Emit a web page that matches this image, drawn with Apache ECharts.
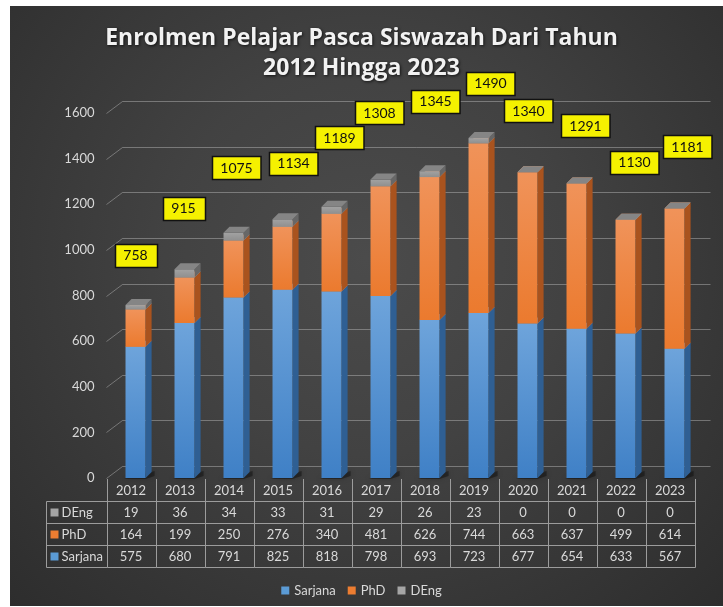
<!DOCTYPE html>
<html>
<head>
<meta charset="utf-8">
<script src="https://cdn.jsdelivr.net/npm/echarts@6/dist/echarts.min.js"></script>
<style>
html,body{margin:0;padding:0;background:#fff;}
#bg{position:absolute;left:10px;top:6px;width:713px;height:600px;
background:radial-gradient(ellipse at 50% 42%, #4b4b4b 0%, #424242 40%, #2d2d2d 100%);}
#chart{position:absolute;left:0;top:0;width:723px;height:607px;}
</style>
</head>
<body>
<div id="bg"></div>
<div id="chart"></div>
<script>
const years = ['2012','2013','2014','2015','2016','2017','2018','2019','2020','2021','2022','2023'];
const deng = [19,36,34,33,31,29,26,23,0,0,0,0];
const phd = [164,199,250,276,340,481,626,744,663,637,499,614];
const sarjana = [575,680,791,825,818,798,693,723,677,654,633,567];
const totals = [758,915,1075,1134,1189,1308,1345,1490,1340,1291,1130,1181];
const yTicks = [0,200,400,600,800,1000,1200,1400,1600];
const seriesNames = ['Sarjana','PhD','DEng'];

// label box offsets (pixels) relative to each total's position
const labelDx = [4.5,3.5,7.5,15.5,12.5,3.5,10.5,16.5,5.5,13.5,13.5,17.5];
const labelDy = [-50,-61,-65,-56,-69,-67,-70,-55,-61.5,-58,-58,-62];

const FONT = 'Lato';
const TXT = '#d9d9d9';
const G = echarts.graphic;
const colors = {
  Sarjana: {legend:'#5b9bd5', front:new G.LinearGradient(0,0,0,1,[{offset:0,color:'#6ea4db'},{offset:1,color:'#3f80c6'}]), side:'#2f5f93', top:'#7fb0e0'},
  PhD: {legend:'#ed7d31', front:new G.LinearGradient(0,0,0,1,[{offset:0,color:'#f0935a'},{offset:1,color:'#eb7a2e'}]), side:'#a9531e', top:'#f2a577'},
  DEng: {legend:'#a5a5a5', front:new G.LinearGradient(0,0,0,1,[{offset:0,color:'#a2a2a2'},{offset:1,color:'#8f8f8f'}]), side:'#676767', top:'#858585'}
};

function cuboid(c, withShadow) {
  return function (params, api) {
    const i = api.value(0);
    const b = api.coord([i, api.value(1)]);
    const t = api.coord([i, api.value(2)]);
    const band = api.size([1, 0])[0];
    const w = band * 0.41;
    const x = b[0] - band * 0.112;
    const d = 6;
    const yb = b[1], yt = t[1];
    const ch = [];
    if (withShadow) {
      ch.push({type:'polygon', shape:{points:[[x-2,yb+1],[x+w+d+3,yb-d-1],[x+w+d+3,yb-2],[x+w,yb+1]]},
        style:{fill:'rgba(0,0,0,0.35)', shadowColor:'rgba(0,0,0,0.6)', shadowBlur:4}});
    }
    ch.push(
      {type:'rect', shape:{x:x, y:yt, width:w, height:Math.max(0, yb-yt)}, style:{fill:c.front}},
      {type:'polygon', shape:{points:[[x+w,yt],[x+w+d,yt-d],[x+w+d,yb-d],[x+w,yb]]}, style:{fill:c.side}},
      {type:'polygon', shape:{points:[[x,yt],[x+d,yt-d],[x+w+d,yt-d],[x+w,yt]]}, style:{fill:c.top}}
    );
    return {type:'group', children:ch};
  };
}

const sData = years.map((y,i)=>[i, 0, sarjana[i]]);
const pData = years.map((y,i)=>[i, sarjana[i], sarjana[i]+phd[i]]);
const dData = years.map((y,i)=>[i, sarjana[i]+phd[i], sarjana[i]+phd[i]+deng[i]]);

const chart = echarts.init(document.getElementById('chart'));
chart.setOption({
  backgroundColor: 'transparent',
  animation: false,
  title: {
    text: 'Enrolmen Pelajar Pasca Siswazah Dari Tahun\n2012 Hingga 2023',
    left: 'center', top: 18,
    textStyle: {color:'#f2f2f2', fontFamily:'Open Sans', fontWeight:'bold', fontSize:23, lineHeight:30,
      textShadowColor:'rgba(0,0,0,0.7)', textShadowBlur:3, textShadowOffsetX:1, textShadowOffsetY:1}
  },
  legend: {
    bottom: 5, left: 'center', icon: 'rect', itemWidth: 8, itemHeight: 8, itemGap: 12,
    textStyle: {color:TXT, fontFamily:FONT, fontSize:13},
    data: seriesNames
  },
  grid: {left: 106.5, right: 28.5, top: 113, bottom: 129},
  xAxis: {type:'category', data: years, boundaryGap:true,
    axisLine:{show:false}, axisTick:{show:false}, axisLabel:{show:false}, splitLine:{show:false}},
  yAxis: {type:'value', min:0, max:1600, interval:200,
    axisLine:{show:false}, axisTick:{show:false}, splitLine:{show:false},
    axisLabel:{color:TXT, fontFamily:FONT, fontSize:13, margin:12, formatter:function(v){return String(v);}}},
  series: [
    {
      type:'custom', name:'wall', silent:true, z:1, clip:false,
      data: yTicks.map(v=>[0, v]), encode:{x:0, y:1},
      renderItem: function(params, api){
        const p = api.coord([0, api.value(1)]);
        const x0 = params.coordSys.x, w = params.coordSys.width;
        const y = Math.round(p[1]) + 0.5;
        const st = {stroke:'rgba(190,190,190,0.45)', lineWidth:1};
        return {type:'group', children:[
          {type:'line', shape:{x1:x0, y1:y, x2:x0+16, y2:y-12}, style:st},
          {type:'line', shape:{x1:x0+16, y1:y-12, x2:x0+16+w, y2:y-12}, style:st}
        ]};
      }
    },
    {type:'custom', name:'Sarjana', z:2, data:sData, encode:{x:0, y:[1,2]}, itemStyle:{color:colors.Sarjana.legend}, renderItem:cuboid(colors.Sarjana, true)},
    {type:'custom', name:'PhD', z:3, data:pData, encode:{x:0, y:[1,2]}, itemStyle:{color:colors.PhD.legend}, renderItem:cuboid(colors.PhD, false)},
    {type:'custom', name:'DEng', z:4, data:dData, encode:{x:0, y:[1,2]}, itemStyle:{color:colors.DEng.legend}, renderItem:cuboid(colors.DEng, false)},
    {
      type:'custom', name:'totals', z:10, silent:true, clip:false,
      data: totals.map((v,i)=>[i, v]), encode:{x:0, y:1},
      renderItem: function(params, api){
        const i = api.value(0);
        const p = api.coord([i, api.value(1)]);
        const txt = String(totals[i]);
        const w = 6.5*txt.length + 22.5, h = 23;
        const cx = p[0] + labelDx[i], cy = p[1] + labelDy[i];
        return {type:'group', children:[
          {type:'rect', shape:{x:Math.round(cx-w/2)+0.5, y:Math.round(cy-h/2)+0.5, width:w, height:h},
            style:{fill:'#f5f100', stroke:'#111', lineWidth:1.5}},
          {type:'text', x:cx, y:cy+0.5, style:{text:txt, fill:'#111', font:'14px Lato', align:'center', verticalAlign:'middle'}}
        ]};
      }
    },
    {
      type:'custom', name:'table', z:5, silent:true, clip:false,
      data: years.map((y,i)=>[i, 0]), encode:{x:0, y:1},
      renderItem: function(params, api){
        const i = api.value(0);
        const c = api.coord([i, 0]);
        const band = api.size([1,0])[0];
        const xl = Math.round(c[0]-band/2)+0.5, xr = Math.round(c[0]+band/2)+0.5;
        const y0 = Math.round(c[1]);
        const lineSt = {stroke:'#9c9c9c', lineWidth:1};
        const rows = [y0+23.5, y0+45.5, y0+67.5, y0+89.5];
        const ch = [];
        ch.push({type:'line', shape:{x1:xl, y1:y0+1, x2:xl, y2:rows[3]}, style:lineSt});
        if (i === years.length-1) ch.push({type:'line', shape:{x1:xr, y1:y0+1, x2:xr, y2:rows[3]}, style:lineSt});
        rows.forEach(r=>ch.push({type:'line', shape:{x1:xl, y1:r, x2:xr, y2:r}, style:lineSt}));
        const tf = '13px Lato';
        const vals = [years[i], deng[i], phd[i], sarjana[i]];
        const ys = [y0+13, y0+34.5, y0+56.5, y0+78.5];
        vals.forEach((v,k)=>ch.push({type:'text', x:c[0], y:ys[k], style:{text:String(v), fill:TXT, font:tf, align:'center', verticalAlign:'middle'}}));
        if (i === 0) {
          const xL = xl - 61;
          ch.push({type:'line', shape:{x1:xL, y1:rows[0], x2:xL, y2:rows[3]}, style:lineSt});
          rows.forEach(r=>ch.push({type:'line', shape:{x1:xL, y1:r, x2:xl, y2:r}, style:lineSt}));
          const labs = ['DEng','PhD','Sarjana'];
          labs.forEach((n,k)=>{
            const yy = ys[k+1];
            ch.push({type:'rect', shape:{x:xL+4, y:yy-4, width:8, height:8}, style:{fill:colors[n].legend}});
            ch.push({type:'text', x:xL+15, y:yy, style:{text:n, fill:TXT, font:tf, align:'left', verticalAlign:'middle'}});
          });
        }
        return {type:'group', children:ch};
      }
    }
  ]
});
</script>
</body>
</html>
